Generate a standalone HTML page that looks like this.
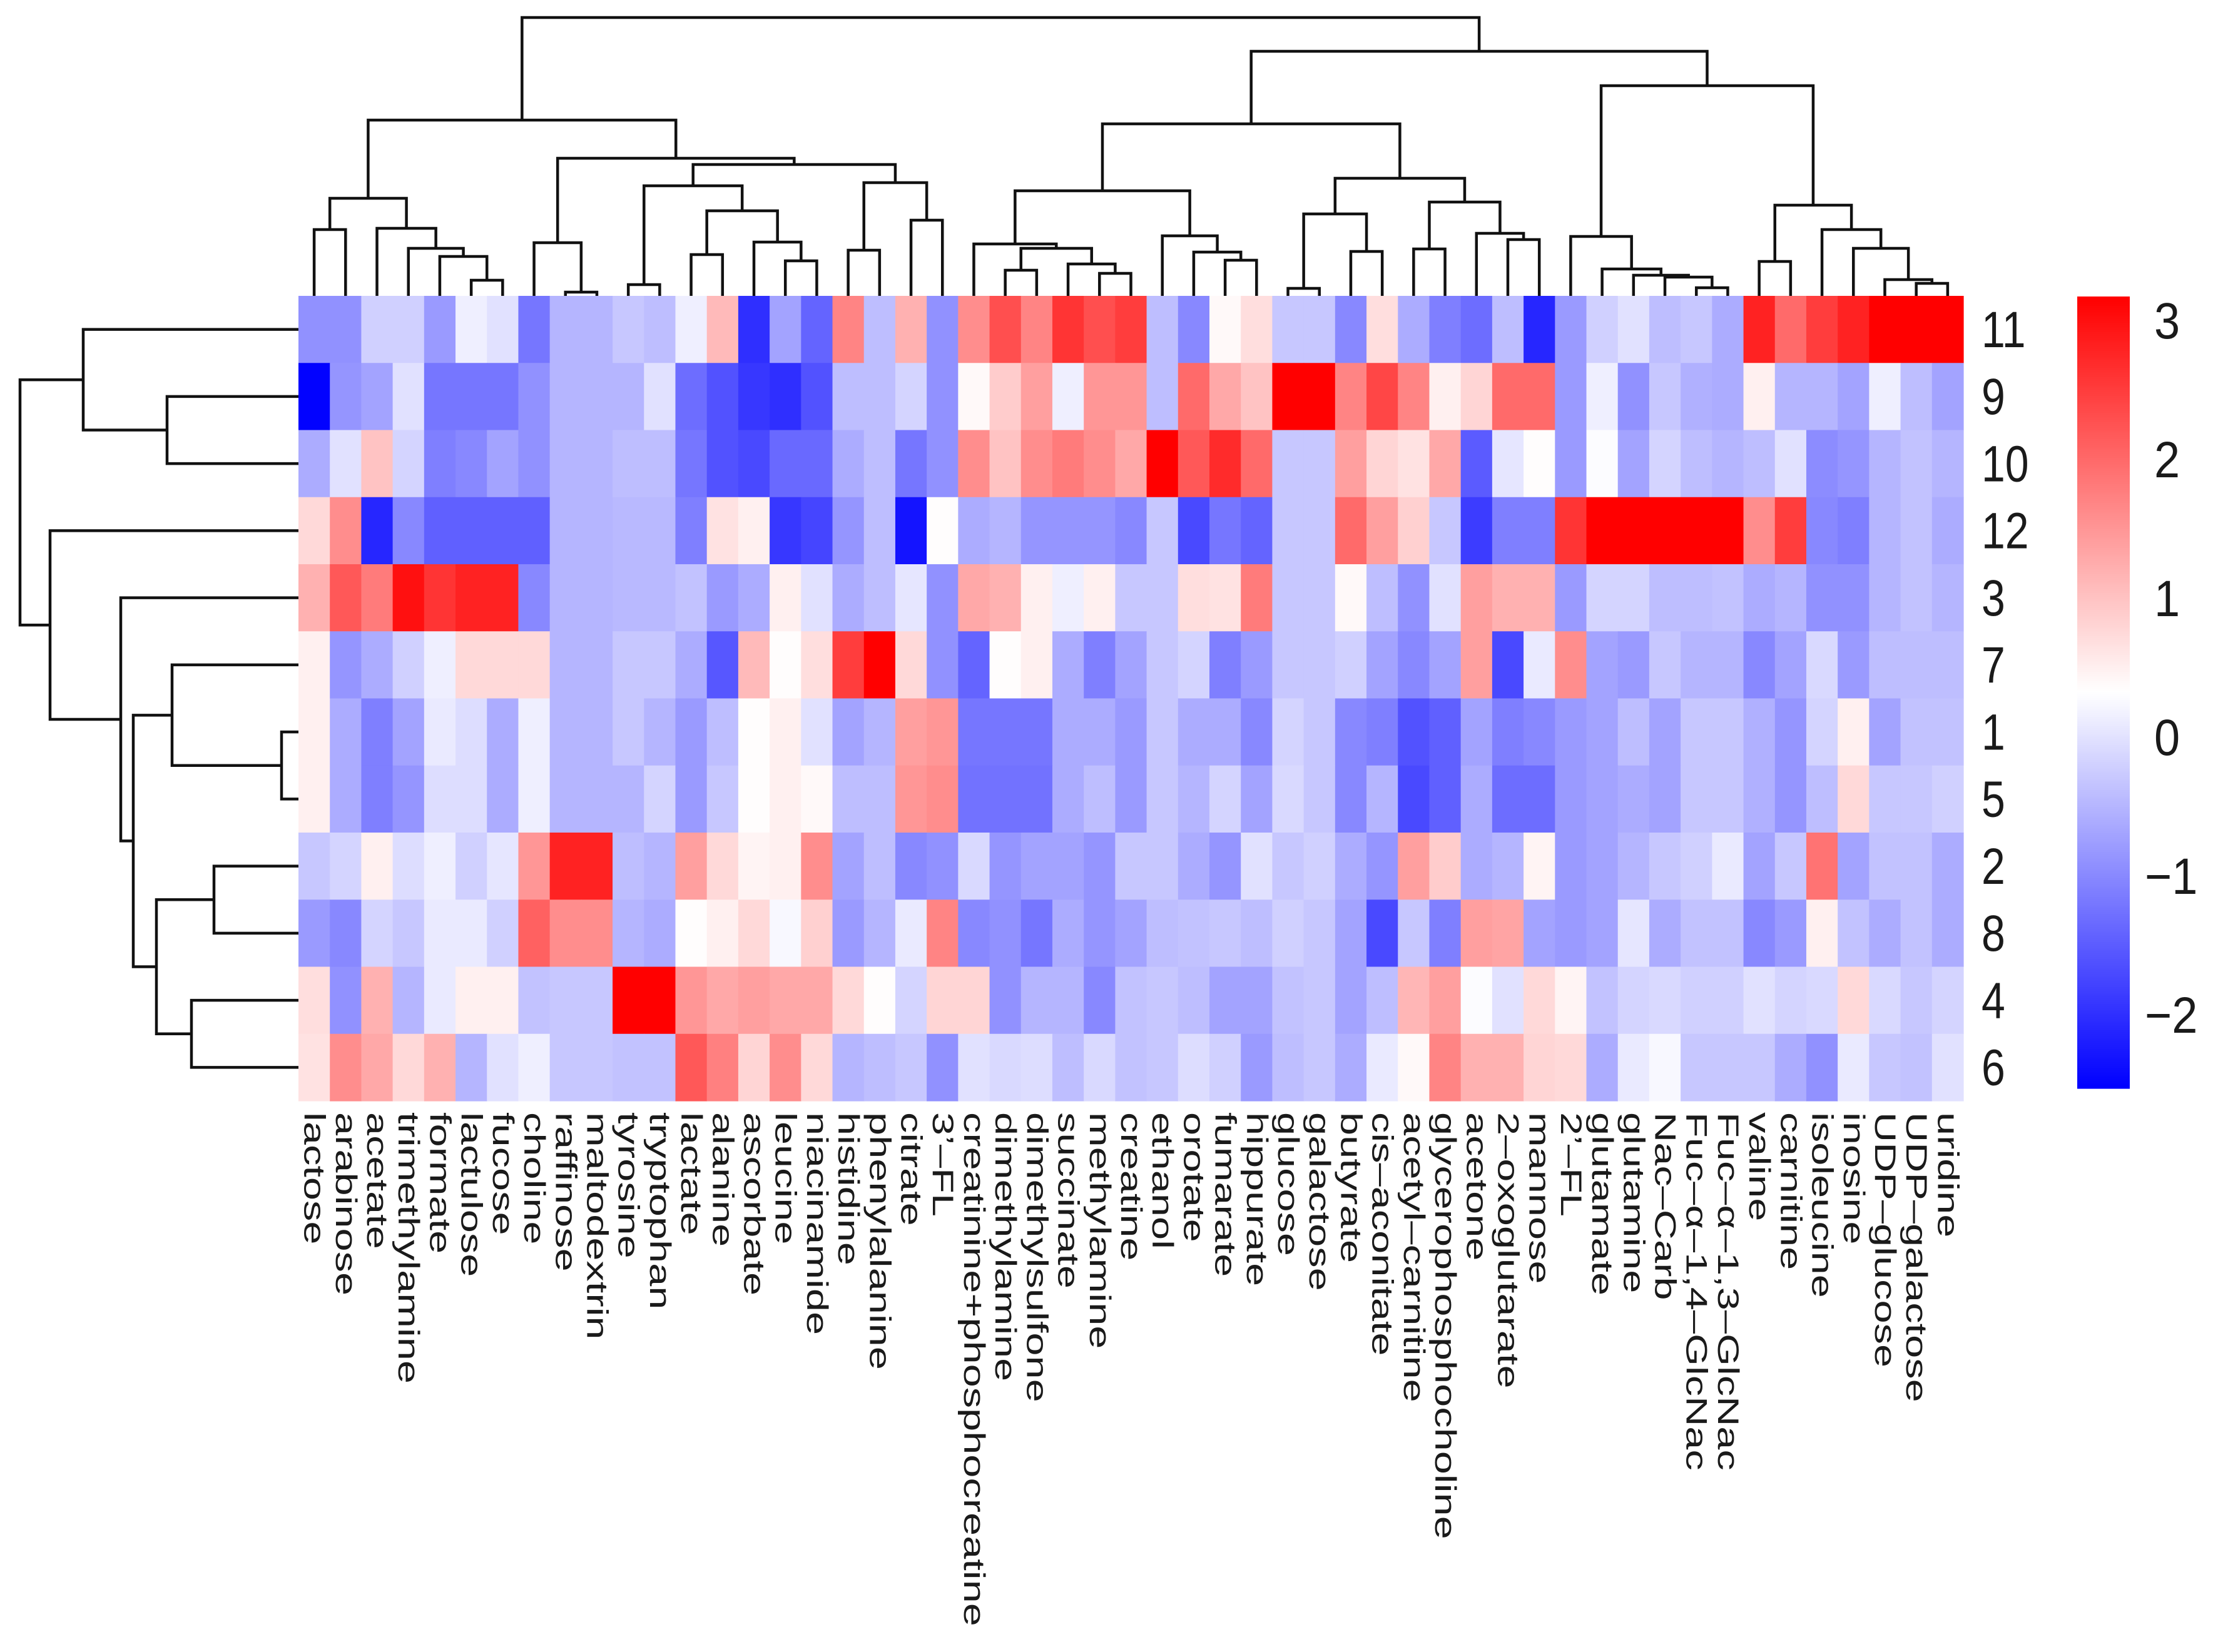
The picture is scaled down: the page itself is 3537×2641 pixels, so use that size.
<!DOCTYPE html>
<html><head><meta charset="utf-8"><style>
html,body{margin:0;padding:0;background:#fff;}
svg{display:block;}
text{font-family:"Liberation Sans",Arial,sans-serif;fill:#1a1a1a;}
</style></head><body>
<svg id="chart" width="3537" height="2641" viewBox="0 0 3537 2641" xmlns="http://www.w3.org/2000/svg">
<g id="cells"></g>
<g id="topDendro"></g>
<g id="leftDendro"></g>
<g id="colLabels"></g>
<g id="rowLabels"></g>
<g id="legend"></g>
</svg>
<script>
const colLabels = ["lactose","arabinose","acetate","trimethylamine","formate","lactulose","fucose","choline","raffinose","maltodextrin","tyrosine","tryptophan","lactate","alanine","ascorbate","leucine","niacinamide","histidine","phenylalanine","citrate","3’–FL","creatinine+phosphocreatine","dimethylamine","dimethylsulfone","succinate","methylamine","creatine","ethanol","orotate","fumarate","hippurate","glucose","galactose","butyrate","cis–aconitate","acetyl–carnitine","glycerophosphocholine","acetone","2–oxoglutarate","mannose","2’–FL","glutamate","glutamine","Nac–Carb","Fuc–α–1,4–GlcNac","Fuc–α–1,3–GlcNac","valine","carnitine","isoleucine","inosine","UDP–glucose","UDP–galactose","uridine"];
const rowLabels = ["11","9","10","12","3","7","1","5","2","8","4","6"];
const row11 = [-0.9,-0.9,-0.2,-0.2,-0.8,0.15,0.0,-1.2,-0.5,-0.5,-0.3,-0.4,0.15,1.1,-2.0,-0.7,-1.4,1.7,-0.4,1.2,-0.9,1.6,2.3,1.7,2.6,2.3,2.5,-0.4,-1.0,0.4,0.7,-0.3,-0.3,-1.0,0.7,-0.6,-1.1,-1.3,-0.4,-2.1,-0.8,-0.2,0.0,-0.4,-0.3,-0.6,2.8,2.0,2.5,2.8,3.2,3.2,3.2];
const row9 = [-2.5,-0.85,-0.7,0.0,-1.2,-1.2,-1.2,-0.9,-0.5,-0.5,-0.5,0.0,-1.3,-1.6,-1.9,-2.0,-1.6,-0.4,-0.4,-0.15,-0.9,0.4,0.9,1.4,0.15,1.5,1.5,-0.4,2.0,1.3,1.0,3.2,3.2,1.7,2.4,1.7,0.5,0.8,2.0,2.0,-0.8,0.15,-0.9,-0.3,-0.55,-0.6,0.5,-0.5,-0.5,-0.7,0.15,-0.4,-0.7];
const row10 = [-0.6,0.0,1.0,-0.15,-1.1,-1.0,-0.7,-0.9,-0.5,-0.5,-0.4,-0.4,-1.2,-1.6,-1.7,-1.35,-1.35,-0.6,-0.4,-1.2,-0.9,1.6,1.0,1.6,1.8,1.6,1.3,3.2,2.2,2.7,2.0,-0.3,-0.3,1.4,0.8,0.65,1.3,-1.5,0.05,0.35,-0.8,0.3,-0.7,-0.15,-0.4,-0.5,-0.4,0.0,-0.95,-0.85,-0.5,-0.35,-0.5];
const row12 = [0.75,1.6,-2.1,-1.0,-1.45,-1.45,-1.45,-1.45,-0.5,-0.5,-0.45,-0.45,-1.1,0.65,0.5,-1.9,-1.75,-0.85,-0.4,-2.3,0.35,-0.6,-0.5,-0.85,-0.85,-0.85,-1.0,-0.3,-1.7,-1.2,-1.4,-0.3,-0.3,2.0,1.4,0.85,-0.3,-1.85,-1.1,-1.1,2.6,3.2,3.2,3.2,3.2,3.2,1.6,2.5,-1.0,-1.1,-0.5,-0.35,-0.6];
const row3 = [1.2,2.2,1.8,3.0,2.6,2.8,2.8,-1.0,-0.5,-0.5,-0.45,-0.45,-0.35,-0.8,-0.6,0.5,0.0,-0.6,-0.4,0.05,-0.9,1.3,1.2,0.5,0.15,0.5,-0.3,-0.3,0.7,0.65,1.8,-0.3,-0.3,0.4,-0.4,-0.9,0.0,1.4,1.2,1.2,-0.8,-0.15,-0.15,-0.4,-0.4,-0.35,-0.6,-0.5,-0.9,-0.9,-0.5,-0.35,-0.5];
const row7 = [0.5,-0.85,-0.6,-0.2,0.15,0.75,0.75,0.75,-0.5,-0.5,-0.3,-0.3,-0.6,-1.55,1.1,0.35,0.7,2.5,3.2,0.75,-0.9,-1.4,0.35,0.5,-0.6,-1.1,-0.7,-0.3,-0.15,-1.1,-0.8,-0.3,-0.3,-0.2,-0.7,-1.0,-0.7,1.4,-1.7,0.1,1.6,-0.7,-0.8,-0.3,-0.5,-0.5,-1.0,-0.7,-0.1,-0.8,-0.4,-0.4,-0.4];
const row1 = [0.5,-0.6,-1.1,-0.7,0.1,-0.05,-0.6,0.15,-0.5,-0.5,-0.3,-0.5,-0.8,-0.4,0.35,0.5,0.0,-0.7,-0.5,1.4,1.5,-1.2,-1.2,-1.2,-0.6,-0.6,-0.8,-0.3,-0.6,-0.6,-1.0,-0.15,-0.3,-1.0,-1.1,-1.6,-1.45,-0.7,-1.1,-1.0,-0.8,-0.7,-0.4,-0.7,-0.3,-0.3,-0.55,-0.85,-0.15,0.5,-0.7,-0.35,-0.35];
const row5 = [0.5,-0.6,-1.1,-0.85,-0.05,-0.05,-0.6,0.15,-0.5,-0.5,-0.5,-0.15,-0.8,-0.3,0.35,0.5,0.4,-0.4,-0.4,1.5,1.6,-1.25,-1.25,-1.25,-0.6,-0.4,-0.8,-0.3,-0.5,-0.15,-0.7,-0.1,-0.3,-1.0,-0.5,-1.7,-1.45,-0.6,-1.3,-1.3,-0.8,-0.7,-0.6,-0.7,-0.3,-0.3,-0.55,-0.85,-0.4,0.75,-0.3,-0.3,-0.2];
const row2 = [-0.3,-0.15,0.5,-0.05,0.15,-0.2,0.05,1.5,2.8,2.8,-0.4,-0.5,1.4,0.75,0.45,0.5,1.6,-0.7,-0.4,-1.0,-0.9,-0.1,-0.85,-0.7,-0.7,-0.85,-0.3,-0.3,-0.6,-0.85,0.0,-0.3,-0.2,-0.6,-0.85,1.4,0.9,-0.6,-0.5,0.45,-0.8,-0.7,-0.5,-0.3,-0.2,0.1,-0.7,-0.3,1.9,-0.7,-0.35,-0.35,-0.6];
const row8 = [-0.8,-1.0,-0.15,-0.3,0.1,0.1,-0.2,2.1,1.6,1.6,-0.5,-0.6,0.35,0.5,0.75,0.25,0.85,-0.8,-0.5,0.1,1.7,-1.0,-0.9,-1.2,-0.6,-0.85,-0.7,-0.4,-0.35,-0.3,-0.4,-0.2,-0.3,-0.7,-1.7,-0.3,-1.1,1.4,1.35,-0.7,-0.8,-0.7,0.05,-0.6,-0.35,-0.35,-1.0,-0.8,0.5,-0.35,-0.6,-0.35,-0.6];
const row4 = [0.7,-0.9,1.2,-0.5,0.1,0.5,0.5,-0.35,-0.3,-0.3,3.2,3.2,1.5,1.3,1.4,1.3,1.3,0.75,0.35,-0.15,0.8,0.8,-0.9,-0.5,-0.5,-1.0,-0.35,-0.3,-0.4,-0.7,-0.7,-0.35,-0.3,-0.7,-0.4,1.15,1.4,0.3,0.0,0.75,0.45,-0.35,-0.15,-0.1,-0.2,-0.2,0.0,-0.15,-0.1,0.75,-0.1,-0.3,-0.15];
const row6 = [0.65,1.6,1.3,0.75,1.2,-0.5,0.0,0.15,-0.3,-0.3,-0.35,-0.35,2.2,1.75,0.8,1.6,0.75,-0.5,-0.4,-0.3,-0.9,0.0,-0.1,-0.05,-0.4,-0.1,-0.35,-0.3,-0.05,-0.2,-0.8,-0.4,-0.3,-0.6,0.1,0.4,1.7,1.2,1.2,0.8,0.75,-0.6,0.1,0.25,-0.3,-0.3,-0.3,-0.6,-0.9,0.1,-0.3,-0.35,0.0];
const matrix = [row11,row9,row10,row12,row3,row7,row1,row5,row2,row8,row4,row6];
const legendTicks = [3,2,1,0,-1,-2];
const scaleMin = -2.52, scaleMax = 3.18;
const colTree = [445,
  [281,
    [156,[106,0,1],[108,2,[76,3,[63,4,[25,5,6]]]]],
    [220,[85,7,[6,8,9]],
      [210,[176,[18,10,11],[136,[66,12,13],[86,14,[56,15,16]]]],
           [181,[73,17,18],[121,19,20]]]]],
  [391,
    [275,
      [168,[83,21,[76,[41,22,23],[51,24,[36,25,26]]]],[96,27,[70,28,[57,29,30]]]],
      [188,[131,[12,31,32],[71,33,34]],[150,[75,35,36],[100,37,[90,38,39]]]]],
    [336,
      [95,40,[43,41,[33,42,[30,43,[13,44,45]]]]],
      [145,[55,46,47],[106,48,[76,49,[26,50,[20,51,52]]]]]]]];
const rowTree = [445,[344,0,[210,1,2]],[397,3,[284,4,[264,[202,5,[27,6,7]],[227,[135,8,9],[171,10,11]]]]]];

const NS = "http://www.w3.org/2000/svg";
const X0 = 477, Y0 = 473, CW = (3138-477)/53, RH = (1760-473)/12;
const mid = (scaleMin+scaleMax)/2;
function color(v){
  v=Math.max(scaleMin,Math.min(scaleMax,v));
  if(v<mid){const t=(mid-v)/(mid-scaleMin);const c=Math.round(255*(1-t));return `rgb(${c},${c},255)`;}
  const t=(v-mid)/(scaleMax-mid);const c=Math.round(255*(1-t));return `rgb(255,${c},${c})`;
}
const xCol = j => X0 + j*CW;
const yRow = i => Y0 + i*RH;
function mk(tag, attrs, parent){const e=document.createElementNS(NS,tag);for(const k in attrs)e.setAttribute(k,attrs[k]);parent.appendChild(e);return e;}

const gCells=document.getElementById('cells');
matrix.forEach((row,i)=>row.forEach((v,j)=>{
  const r=mk('rect',{x:xCol(j).toFixed(2),y:yRow(i).toFixed(2),width:(CW+0.6).toFixed(2),height:(RH+0.6).toFixed(2),fill:color(v)},gCells);
  
  
}));

const gTop=document.getElementById('topDendro');
function drawTop(n){
  if(typeof n==='number') return {p:xCol(n)+CW/2,y:Y0};
  const a=drawTop(n[1]), b=drawTop(n[2]); const y=Y0-n[0];
  const p=mk('path',{d:`M${a.p},${a.y}V${y}H${b.p}V${b.y}`,fill:'none',stroke:'#111','stroke-width':4.5},gTop);
  
  
  return {p:(a.p+b.p)/2,y:y};
}
drawTop(colTree);
const gLeft=document.getElementById('leftDendro');
function drawLeft(n){
  if(typeof n==='number') return {p:yRow(n)+RH/2,x:X0};
  const a=drawLeft(n[1]), b=drawLeft(n[2]); const x=X0-n[0];
  const p=mk('path',{d:`M${a.x},${a.p}H${x}V${b.p}H${b.x}`,fill:'none',stroke:'#111','stroke-width':4.5},gLeft);
  
  
  return {p:(a.p+b.p)/2,x:x};
}
drawLeft(rowTree);

const gCol=document.getElementById('colLabels');
colLabels.forEach((s,j)=>{
  const t=mk('text',{transform:`translate(${(xCol(j)+CW/2).toFixed(1)},1778) rotate(90) scale(1.42,1)`,'font-size':47,'dominant-baseline':'central','text-anchor':'start'},gCol);
  t.textContent=s;
  
  
});
const gRow=document.getElementById('rowLabels');
rowLabels.forEach((s,i)=>{
  const t=mk('text',{transform:`translate(3167,${(yRow(i)+RH/2).toFixed(1)}) scale(1,1.2)`,'font-size':68,'dominant-baseline':'central'},gRow);
  t.textContent=s;
  
  
});

const gLeg=document.getElementById('legend');
const LT=474, LB=1739, LX=3320, LW=84;
const vToY = v => LT + (scaleMax-v)/(scaleMax-scaleMin)*(LB-LT);
for(let k=0;k<LB-LT;k+=3){
  const v=scaleMax-(k+1.5)/(LB-LT)*(scaleMax-scaleMin);
  const r=mk('rect',{x:LX,y:LT+k,width:LW,height:3.6,fill:color(v)},gLeg);
  
  
}
legendTicks.forEach(v=>{
  const t=mk('text',{transform:`translate(${v<0?3428:3443},${vToY(v).toFixed(1)}) scale(1,1.1)`,'font-size':74,'dominant-baseline':'central'},gLeg);
  t.textContent=(v<0?'\u2212':'')+Math.abs(v);
  
  
});
</script>
</body></html>
